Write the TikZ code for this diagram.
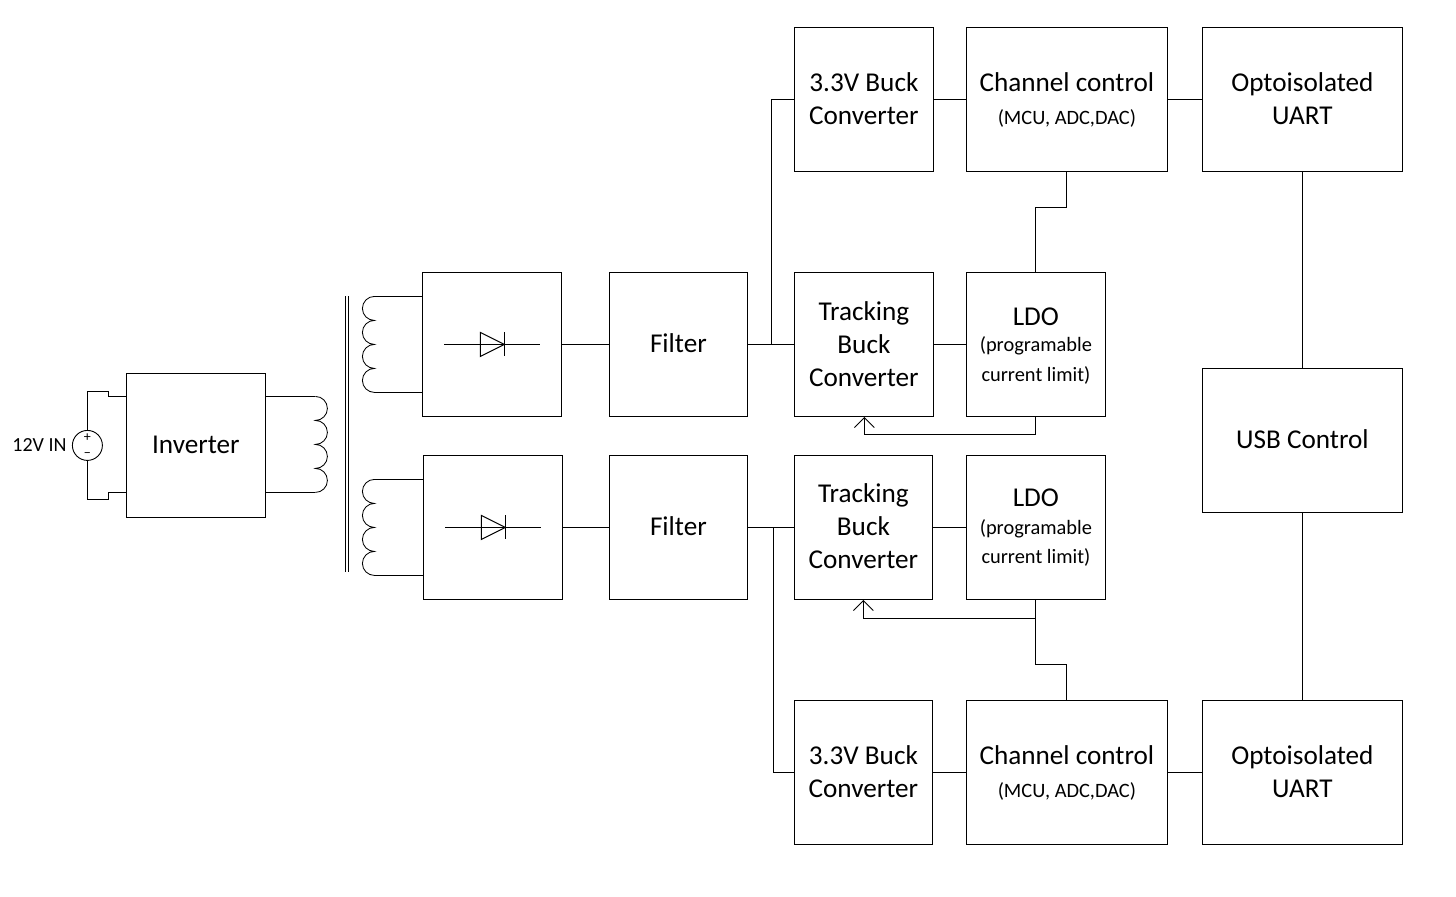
\documentclass[tikz,border=0pt]{standalone}
\usepackage{fontspec}
\setmainfont{Carlito}
\usetikzlibrary{arrows.meta}
\newcommand{\bigt}{\fontsize{13.6}{16.5}\selectfont}
\newcommand{\smt}{\fontsize{10.2}{15}\selectfont}
\newcommand{\mv}[2]{\raisebox{#1}[\height][\depth]{#2}}
\newcommand{\blk}[6]{\node[blk,minimum width={(#4-#2)*0.5pt},minimum height={(#5-#3)*0.5pt}] (#1) at ({(#2+#4)/2},{(#3+#5)/2}) {#6};}
\newcommand{\coilR}[2]{\draw[thin wire] (#1,#2) arc[start angle=90,end angle=-90,radius=6pt] arc[start angle=90,end angle=-90,radius=6pt] arc[start angle=90,end angle=-90,radius=6pt] arc[start angle=90,end angle=-90,radius=6pt];}
\newcommand{\coilL}[2]{\draw[thin wire] (#1,#2) arc[start angle=90,end angle=270,radius=6pt] arc[start angle=90,end angle=270,radius=6pt] arc[start angle=90,end angle=270,radius=6pt] arc[start angle=90,end angle=270,radius=6pt];}
\newcommand{\diodesym}[2]{\draw[wire] (#1-48,#2) -- (#1+48,#2);
  \draw[wire] (#1-12,#2-12) -- (#1-12,#2+12) -- (#1+12,#2) -- cycle;
  \draw[wire] (#1+12,#2-12) -- (#1+12,#2+12);}
\tikzset{
  x=0.5pt,y=-0.5pt,
  wire/.style={line width=0.52pt,black},
  thin wire/.style={line width=0.42pt,black},
  blk/.style={draw=black,line width=0.52pt,rectangle,inner sep=0pt,outer sep=0pt,align=center,font=\bigt},
  openarrow/.style={-{Straight Barb[length=5pt,width=10pt,line width=0.45pt]}},
}
\begin{document}
\begin{tikzpicture}
\useasboundingbox (0,0) rectangle (1456,896);
\fill[white] (0,0) rectangle (1456,896);
\begin{scope}[shift={(0.4,0.4)}]
% blocks
\blk{inv}{126}{373}{265}{517}{\mv{0.5pt}{Inverter}}
\blk{rect1}{422}{272}{561}{416}{}
\blk{rect2}{423}{455}{562}{599}{}
\blk{filt1}{609}{272}{747}{416}{\mv{0.5pt}{Filter}}
\blk{filt2}{609}{455}{747}{599}{\mv{0.5pt}{Filter}}
\blk{track1}{794}{272}{933}{416}{Tracking\\Buck\\Converter}
\blk{track2}{794}{455}{932}{599}{\mv{0.5pt}{Tracking}\\\mv{0.5pt}{Buck}\\\mv{0.5pt}{Converter}}
\blk{ldo1}{966}{272}{1105}{416}{\mv{-1pt}{LDO}\\[-3.4pt]\mv{-0.7pt}{\smt (programable}\\[-1.5pt]\mv{-1pt}{\smt current limit)}}
\blk{ldo2}{966}{455}{1105}{599}{LDO\\[-2.4pt]{\smt (programable}\\[-2pt]{\smt current limit)}}
\blk{buck1}{794}{27}{933}{171}{\mv{0.5pt}{3.3V Buck}\\\mv{0.5pt}{Converter}}
\blk{buck2}{794}{700}{932}{844}{\mv{0.5pt}{3.3V Buck}\\\mv{0.5pt}{Converter}}
\blk{cc1}{966}{27}{1167}{171}{\mv{-0.5pt}{Channel control}\\\mv{-0.5pt}{\smt (MCU, ADC,DAC)}}
\blk{cc2}{966}{700}{1167}{844}{\mv{-0.5pt}{Channel control}\\\mv{-0.5pt}{\smt (MCU, ADC,DAC)}}
\blk{opto1}{1202}{27}{1402}{171}{\mv{0.5pt}{Optoisolated}\\\mv{0.5pt}{UART}}
\blk{opto2}{1202}{700}{1402}{844}{\mv{0.5pt}{Optoisolated}\\\mv{0.5pt}{UART}}
\blk{usb}{1202}{368}{1402}{512}{\mv{0.5pt}{USB Control}}
% source
\node[draw=black,line width=0.45pt,circle,minimum size=15pt,inner sep=0pt,outer sep=0pt] (src) at (87,445) {};
\node[inner sep=0pt,font=\fontsize{7}{7}\selectfont] (plus) at (87,437) {+};
\node[inner sep=0pt,font=\fontsize{7}{7}\selectfont] (minus) at (87,455) {\textminus};
\node[inner sep=0pt,anchor=east,font=\fontsize{10}{12}\selectfont] (vin) at (66.5,445) {12V IN};
\coordinate (inA) at (126,396);
\coordinate (inB) at (126,492);
\draw[wire] (inA) -- (108,396) -- (108,391) -- (87,391) -- (src.north);
\draw[wire] (inB) -- (108,492) -- (108,499) -- (87,499) -- (src.south);
% transformer
\draw[wire] (265,396) -- (315,396); \coilR{315}{396}
\draw[wire] (315,492) -- (265,492);
\draw[thin wire,line width=0.4pt] (345.3,296) -- (345.3,572);
\draw[thin wire,line width=0.4pt] (347.7,296) -- (347.7,572);
\draw[wire] (422,296) -- (374,296); \coilL{374}{296}
\draw[wire] (374,392) -- (422,392);
\draw[wire] (423,479) -- (374,479); \coilL{374}{479}
\draw[wire] (374,575) -- (423,575);
\diodesym{492}{344}
\diodesym{493}{527}
% connectors
\draw[wire] (rect1.east) -- (filt1.west);
\draw[wire] (rect2.east) -- (filt2.west);
\draw[wire] (filt1.east) -- (track1.west);
\draw[wire] (filt2.east) -- (track2.west);
\draw[wire] (track1.east) -- (ldo1.west);
\draw[wire] (track2.east) -- (ldo2.west);
\draw[wire] (buck1.east) -- (cc1.west);
\draw[wire] (buck2.east) -- (cc2.west);
\draw[wire] (cc1.east) -- (opto1.west);
\draw[wire] (cc2.east) -- (opto2.west);
\draw[wire] (opto1.south) -- (usb.north);
\draw[wire] (usb.south) -- (opto2.north);
\coordinate (j1) at (771,344);
\coordinate (j2) at (773,527);
\draw[wire] (j1) |- (buck1.west);
\draw[wire] (j2) |- (buck2.west);
\coordinate (b1) at (ldo1.north |- 0,207);
\draw[wire] (cc1.south) |- (b1) -- (ldo1.north);
\coordinate (b2) at (ldo2.south |- 0,664);
\draw[wire] (cc2.north) |- (b2) -- (ldo2.south);
\coordinate (fb1) at (ldo1.south |- 0,434);
\coordinate (t1) at (864,416.5);
\draw[wire,openarrow] (ldo1.south) -- (fb1) -| (t1);
\coordinate (fb2) at (ldo2.south |- 0,618);
\coordinate (t2) at (863,599.5);
\draw[wire,openarrow] (fb2) -| (t2);
\end{scope}
\end{tikzpicture}
\end{document}
